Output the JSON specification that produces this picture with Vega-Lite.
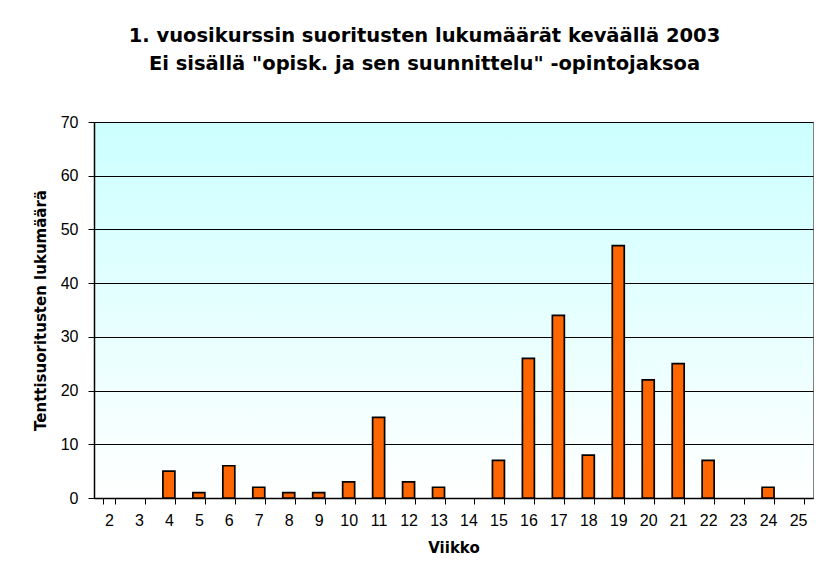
{
  "$schema": "https://vega.github.io/schema/vega-lite/v6.json",
  "width": 719,
  "height": 376,
  "autosize": {"type": "none"},
  "padding": {"left": 94, "top": 122, "right": 3, "bottom": 80},
  "background": "#ffffff",
  "config": {
    "font": "Liberation Sans",
    "view": {"stroke": "#808080", "strokeWidth": 1, "fill": {"gradient": "linear", "x1": 0, "y1": 0, "x2": 0, "y2": 1, "stops": [{"offset": 0, "color": "#ccffff"}, {"offset": 1, "color": "#ffffff"}]}},
    "axis": {"labelFont": "Liberation Sans", "titleFont": "DejaVu Sans", "labelColor": "#000000", "titleColor": "#000000", "domainColor": "#000000", "tickColor": "#000000"}
  },
  "title": {
    "text": ["1. vuosikurssin suoritusten lukumäärät keväällä 2003", "Ei sisällä \"opisk. ja sen suunnittelu\" -opintojaksoa"],
    "font": "DejaVu Sans",
    "fontSize": 19.5,
    "fontWeight": "bold",
    "color": "#000000",
    "lineHeight": 28,
    "anchor": "middle",
    "dx": -29,
    "offset": 40
  },
  "data": {
    "values": [
      {"viikko": "2", "lkm": 0},
      {"viikko": "3", "lkm": 0},
      {"viikko": "4", "lkm": 5},
      {"viikko": "5", "lkm": 1},
      {"viikko": "6", "lkm": 6},
      {"viikko": "7", "lkm": 2},
      {"viikko": "8", "lkm": 1},
      {"viikko": "9", "lkm": 1},
      {"viikko": "10", "lkm": 3},
      {"viikko": "11", "lkm": 15},
      {"viikko": "12", "lkm": 3},
      {"viikko": "13", "lkm": 2},
      {"viikko": "14", "lkm": 0},
      {"viikko": "15", "lkm": 7},
      {"viikko": "16", "lkm": 26},
      {"viikko": "17", "lkm": 34},
      {"viikko": "18", "lkm": 8},
      {"viikko": "19", "lkm": 47},
      {"viikko": "20", "lkm": 22},
      {"viikko": "21", "lkm": 25},
      {"viikko": "22", "lkm": 7},
      {"viikko": "23", "lkm": 0},
      {"viikko": "24", "lkm": 2},
      {"viikko": "25", "lkm": 0}
    ]
  },
  "mark": {"type": "bar", "color": "#ff6600", "stroke": "#000000"},
  "encoding": {
    "x": {
      "field": "viikko", "type": "ordinal", "sort": null,
      "scale": {"paddingInner": 0.6, "paddingOuter": 0.3},
      "axis": {"title": "Viikko", "titleFontSize": 15, "titleFontWeight": "bold", "titlePadding": 12, "labelFontSize": 16, "labelAngle": 0, "labelPadding": 8, "tickSize": 6, "tickBand": "extent", "domainWidth": 1.5, "tickWidth": 1}
    },
    "y": {
      "field": "lkm", "type": "quantitative",
      "scale": {"domain": [0, 70], "nice": false},
      "axis": {"title": "Tenttisuoritusten lukumäärä", "titleFontSize": 15, "titleFontWeight": "bold", "titlePadding": 12, "labelFontSize": 16, "labelPadding": 10, "tickSize": 6, "values": [0, 10, 20, 30, 40, 50, 60, 70], "grid": true, "gridColor": "#000000", "gridOpacity": 1, "gridWidth": 1, "domainWidth": 1.5}
    },
    "strokeWidth": {"condition": {"test": "datum.lkm == 0", "value": 0}, "value": 1.7}
  }
}
